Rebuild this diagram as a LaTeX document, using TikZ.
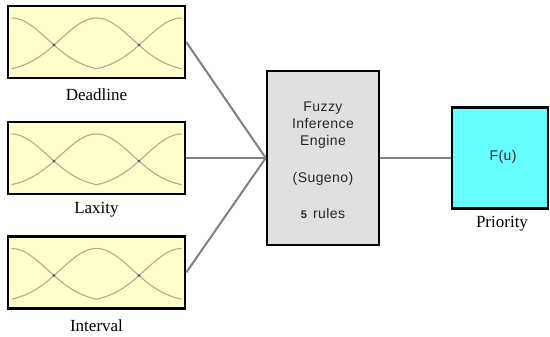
\documentclass[tikz,border=0pt]{standalone}
\usepackage{fontspec}
\setmainfont{Liberation Serif}
\newfontfamily\sansf[LetterSpace=3]{Liberation Sans}
\definecolor{mfyellow}{RGB}{255,255,204}
\definecolor{enginegray}{RGB}{224,224,224}
\definecolor{outcyan}{RGB}{102,255,255}
\definecolor{mfcurve}{RGB}{176,170,144}
\definecolor{wire}{RGB}{128,128,128}
\tikzset{
  inbox/.style={draw=black, line width=2.5pt, fill=mfyellow,
    minimum width=177pt, minimum height=72pt, inner sep=0pt},
  enginebox/.style={draw=black, line width=2.5pt, fill=enginegray,
    minimum width=112pt, minimum height=174pt, inner sep=0pt},
  outbox/.style={draw=black, line width=2.5pt, fill=outcyan,
    minimum width=96pt, minimum height=101pt, inner sep=0pt},
  caption/.style={font=\fontsize{17}{20}\selectfont, inner sep=0pt},
  sanstext/.style={font=\sansf\fontsize{14}{17}\selectfont, text=black!85, inner sep=0pt, align=center},
  wireline/.style={draw=wire, line width=2pt},
  mfline/.style={draw=mfcurve, line width=1.1pt},
  mfs/.pic={
    % low (left half), medium (full width) and high (right half) membership functions
    \draw[mfline] plot[domain=-85:0, samples=50] (\x, {30 - 54*exp(-0.5*((\x+85)/36)^2)})
                  -- plot[domain=0:85, samples=50] (\x, {30 - 54*exp(-0.5*((\x-85)/36)^2)});
    \draw[mfline] plot[domain=-85:85, samples=90] (\x, {30 - 54*exp(-0.5*((\x)/36)^2)});
    \fill[black!70] (-42.5,3) circle (1.3pt) (42.5,3) circle (1.3pt);
  }
}
\begin{document}
\begin{tikzpicture}[x=1pt, y=-1pt]
  \useasboundingbox (0,0) rectangle (550,337);

  % input variables
  \node[inbox] (dl) at (96.5,42) {};
  \pic at (dl.center) {mfs};
  \node[caption] (dlcap) at (96.5,95) {Deadline};

  \node[inbox] (lx) at (96.5,158) {};
  \pic at (lx.center) {mfs};
  \node[caption] (lxcap) at (96.5,210) {Laxity};

  \node[inbox] (iv) at (96.5,272.5) {};
  \pic at (iv.center) {mfs};
  \node[caption] (ivcap) at (96.5,326) {Interval};

  % inference engine
  \node[enginebox] (eng) at (323,158) {};
  \node[sanstext] (engtxt) at (323,125) {Fuzzy\\Inference\\Engine};
  \node[sanstext] (sug) at (323,179) {(Sugeno)};
  \node[sanstext] (rules) at (323,213) {{\bfseries\fontsize{11}{13}\selectfont 5}\hspace{6pt}rules};

  % output variable
  \node[outbox] (out) at (500,158) {};
  \node[sanstext] (fu) at (503,157) {F(u)};
  \node[caption] (outcap) at (502,224) {Priority};

  % connectors
  \draw[wireline] (dl.east) -- (eng.west);
  \draw[wireline] (lx.east) -- (eng.west);
  \draw[wireline] (iv.east) -- (eng.west);
  \draw[wireline] (eng.east) -- (out.west);
\end{tikzpicture}
\end{document}
